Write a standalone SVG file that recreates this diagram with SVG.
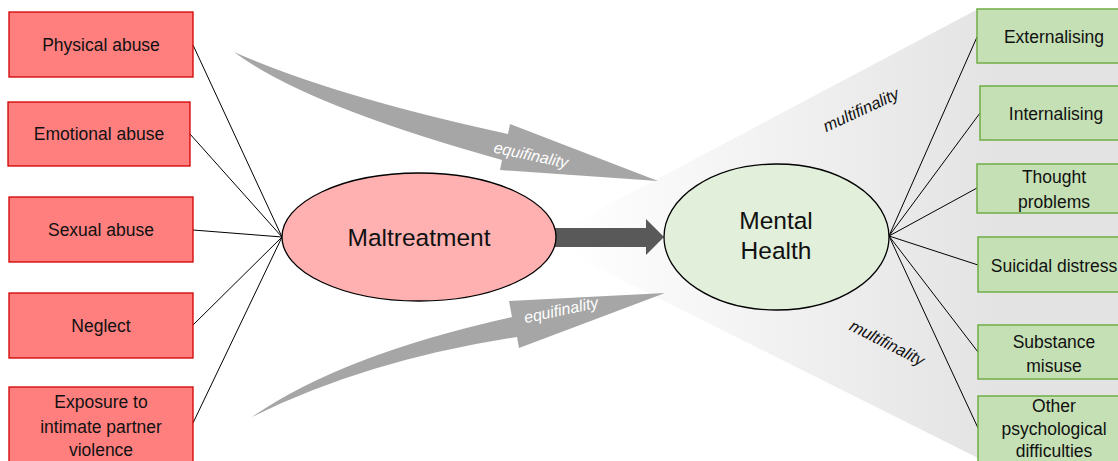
<svg xmlns="http://www.w3.org/2000/svg" width="1118" height="461" viewBox="0 0 1118 461">
  <style>
    .lbox { fill: #FF7F7F; stroke: #D00000; stroke-width: 1.3; }
    .rbox { fill: #C5E0B4; stroke: #70AD47; stroke-width: 1.5; }
    .t { font-family: "Liberation Sans", Arial, sans-serif; font-size: 17.5px; fill: #111; text-anchor: middle; }
    .big { font-family: "Liberation Sans", Arial, sans-serif; font-size: 24.5px; fill: #111; text-anchor: middle; }
    .equi { font-family: "Liberation Sans", Arial, sans-serif; font-style: italic; font-size: 16px; fill: #ffffff; text-anchor: middle; }
    .multi { font-family: "Liberation Sans", Arial, sans-serif; font-style: italic; font-size: 16.5px; fill: #111; text-anchor: middle; }
    .conn { stroke: #000; stroke-width: 1; fill: none; }
    .curved { fill: #A6A6A6; }
  </style>
  <defs>
    <linearGradient id="cone" gradientUnits="userSpaceOnUse" x1="565" y1="0" x2="1000" y2="0">
      <stop offset="0" stop-color="#ffffff"/>
      <stop offset="1" stop-color="#e3e3e3"/>
    </linearGradient>
  </defs>
  <rect x="0" y="0" width="1118" height="461" fill="#ffffff"/>

  <!-- multifinality cone -->
  <polygon id="cone-bg" points="542,240 978,9 1118,9 1118,461 984,461" fill="url(#cone)"/>

  <!-- equifinality arrows -->
  <g id="equifinality-arrows">
    <path class="curved" d="M234,52 Q333,96 508,134 L510,124 L658,181 L500,170 L502,160 Q304,105 234,52 Z"/>
    <path class="curved" d="M252,417 Q341,355 512,317 L509,301 L665,293 L519,348 L517,337 Q367,360 252,417 Z"/>
    <text class="equi" transform="translate(531,155) rotate(12)" x="0" y="5.5">equifinality</text>
    <text class="equi" transform="translate(561,310) rotate(-12)" x="0" y="5.5">equifinality</text>
  </g>

  <g id="multifinality-labels">
    <text class="multi" transform="translate(861,110) rotate(-25)" x="0" y="5.5">multifinality</text>
    <text class="multi" transform="translate(887,343) rotate(27)" x="0" y="5.5">multifinality</text>
  </g>

  <!-- connectors -->
  <g id="connectors">
    <line class="conn" x1="193" y1="45" x2="282" y2="237"/>
    <line class="conn" x1="190" y1="134" x2="282" y2="237"/>
    <line class="conn" x1="193" y1="230" x2="282" y2="237"/>
    <line class="conn" x1="193" y1="325" x2="282" y2="237"/>
    <line class="conn" x1="193" y1="423" x2="282" y2="237"/>
    <line class="conn" x1="889" y1="236" x2="977" y2="37"/>
    <line class="conn" x1="889" y1="236" x2="980" y2="113"/>
    <line class="conn" x1="889" y1="236" x2="977" y2="188"/>
    <line class="conn" x1="889" y1="236" x2="978" y2="265"/>
    <line class="conn" x1="889" y1="236" x2="978" y2="352"/>
    <line class="conn" x1="889" y1="236" x2="978" y2="428"/>
    <polygon id="main-arrow" points="550,228 646,228 646,219 664,237 646,255 646,247 550,247" fill="#595959"/>
  </g>

  <!-- left nodes -->
  <g id="physical-abuse">
    <rect class="lbox" x="9" y="12" width="184" height="65"/>
    <text class="t" x="101" y="51">Physical abuse</text>
  </g>
  <g id="emotional-abuse">
    <rect class="lbox" x="8" y="102" width="182" height="64"/>
    <text class="t" x="99" y="140">Emotional abuse</text>
  </g>
  <g id="sexual-abuse">
    <rect class="lbox" x="9" y="197" width="184" height="65"/>
    <text class="t" x="101" y="236">Sexual abuse</text>
  </g>
  <g id="neglect">
    <rect class="lbox" x="9" y="293" width="184" height="65"/>
    <text class="t" x="101" y="332">Neglect</text>
  </g>
  <g id="ipv">
    <rect class="lbox" x="9" y="387" width="184" height="85"/>
    <text class="t" x="101" y="408">Exposure to</text>
    <text class="t" x="101" y="433">intimate partner</text>
    <text class="t" x="101" y="456">violence</text>
  </g>

  <!-- central nodes -->
  <g id="maltreatment">
    <ellipse cx="419" cy="237" rx="137" ry="64" fill="#FFB1B1" stroke="#000" stroke-width="1.3"/>
    <text class="big" x="419" y="246">Maltreatment</text>
  </g>
  <g id="mental-health">
    <ellipse cx="776.5" cy="237" rx="112.5" ry="73" fill="#E2EFDA" stroke="#000" stroke-width="1.3"/>
    <text class="big" x="776" y="229">Mental</text>
    <text class="big" x="776" y="259">Health</text>
  </g>

  <!-- right nodes -->
  <g id="externalising">
    <rect class="rbox" x="977" y="9" width="160" height="54"/>
    <text class="t" x="1054" y="43">Externalising</text>
  </g>
  <g id="internalising">
    <rect class="rbox" x="980" y="86" width="160" height="54"/>
    <text class="t" x="1056" y="120">Internalising</text>
  </g>
  <g id="thought-problems">
    <rect class="rbox" x="977" y="164" width="160" height="49"/>
    <text class="t" x="1054" y="183">Thought</text>
    <text class="t" x="1054" y="208">problems</text>
  </g>
  <g id="suicidal-distress">
    <rect class="rbox" x="978" y="237" width="160" height="55"/>
    <text class="t" x="1054" y="272">Suicidal distress</text>
  </g>
  <g id="substance-misuse">
    <rect class="rbox" x="978" y="325" width="160" height="54"/>
    <text class="t" x="1054" y="348">Substance</text>
    <text class="t" x="1054" y="372">misuse</text>
  </g>
  <g id="other-difficulties">
    <rect class="rbox" x="978" y="396" width="160" height="80"/>
    <text class="t" x="1054" y="412">Other</text>
    <text class="t" x="1054" y="435">psychological</text>
    <text class="t" x="1054" y="457">difficulties</text>
  </g>
</svg>
